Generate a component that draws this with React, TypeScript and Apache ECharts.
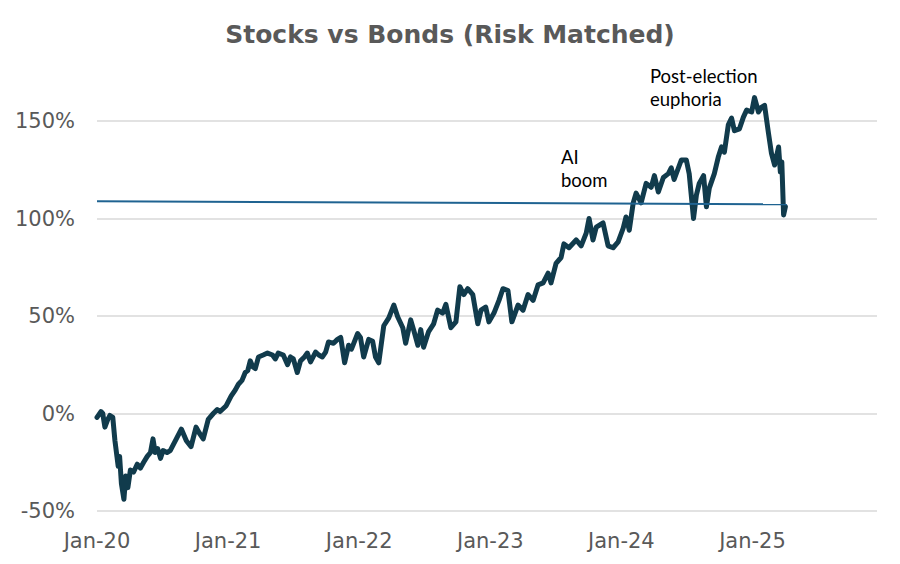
import React, { useEffect, useRef } from "react";
import * as echarts from "echarts";

const dates: string[] = [
  "2020-01-01","2020-01-12","2020-01-17","2020-01-23","2020-01-31","2020-02-06","2020-02-14","2020-02-20","2020-02-29","2020-03-04","2020-03-09","2020-03-16",
  "2020-03-21","2020-03-27","2020-04-03","2020-04-12","2020-04-22","2020-05-01","2020-05-10","2020-05-20","2020-05-29","2020-06-05","2020-06-11","2020-06-18",
  "2020-06-26","2020-07-03","2020-07-14","2020-07-23","2020-08-09","2020-08-23","2020-09-06","2020-09-19","2020-10-03","2020-10-12","2020-10-23","2020-11-06",
  "2020-11-20","2020-12-01","2020-12-09","2020-12-26","2021-01-09","2021-01-20","2021-01-29","2021-02-08","2021-02-17","2021-02-24","2021-03-03","2021-03-10",
  "2021-03-17","2021-03-26","2021-04-08","2021-04-20","2021-05-04","2021-05-12","2021-05-20","2021-06-03","2021-06-15","2021-06-23","2021-07-01","2021-07-12",
  "2021-07-21","2021-08-01","2021-08-09","2021-08-18","2021-09-01","2021-09-10","2021-09-20","2021-09-29","2021-10-07","2021-10-21","2021-11-01","2021-11-10",
  "2021-11-21","2021-12-02","2021-12-10","2021-12-27","2022-01-04","2022-01-13","2022-01-27","2022-02-07","2022-02-15","2022-02-24","2022-03-10","2022-03-24",
  "2022-04-07","2022-04-18","2022-05-02","2022-05-10","2022-05-24","2022-06-01","2022-06-13","2022-06-21","2022-06-29","2022-07-13","2022-07-27","2022-08-07",
  "2022-08-21","2022-08-30","2022-09-13","2022-09-27","2022-10-08","2022-10-19","2022-10-30","2022-11-13","2022-11-27","2022-12-06","2022-12-19","2022-12-28",
  "2023-01-11","2023-01-25","2023-02-05","2023-02-19","2023-03-02","2023-03-19","2023-04-02","2023-04-16","2023-04-30","2023-05-14","2023-05-28","2023-06-11",
  "2023-06-19","2023-07-03","2023-07-17","2023-07-25","2023-08-08","2023-08-28","2023-09-11","2023-09-25","2023-10-03","2023-10-14","2023-10-23","2023-11-11",
  "2023-11-25","2023-12-09","2023-12-23","2024-01-06","2024-01-14","2024-01-23","2024-02-03","2024-02-11","2024-02-25","2024-03-10","2024-03-24","2024-04-02",
  "2024-04-13","2024-04-27","2024-05-11","2024-05-19","2024-05-27","2024-06-16","2024-06-30","2024-07-08","2024-07-20","2024-07-28","2024-08-05","2024-08-17",
  "2024-08-25","2024-09-02","2024-09-16","2024-09-27","2024-10-06","2024-10-14","2024-10-25","2024-11-03","2024-11-11","2024-11-25","2024-12-06","2024-12-15",
  "2024-12-29","2025-01-06","2025-01-17","2025-01-25","2025-02-03","2025-02-14","2025-02-22","2025-03-03","2025-03-14","2025-03-19","2025-03-23","2025-03-28",
  "2025-04-02"
];

const stocksVsBonds: number[] = [
  -2, 1, 0, -7, -3, -1, -2, -14, -27, -22, -36, -44,
  -32, -38, -29, -30, -26, -28, -25, -22, -20, -13, -20, -18,
  -23, -19, -20, -19, -13, -8, -14, -17, -7, -10, -13, -3,
  0, 2, 1, 4, 9, 12, 15, 17, 21, 22, 27, 24,
  23, 29, 30, 31, 30, 28, 31, 30, 25, 29, 28, 21,
  27, 29, 31, 26.5, 31.5, 30, 29, 31.5, 36.7, 36, 38, 39,
  26, 35, 33, 41, 39, 29, 38, 37, 29, 26, 45, 49,
  55.6, 49.5, 44, 36, 48, 43, 35, 43, 34, 42, 46, 53,
  51.5, 56, 44, 47, 65, 61, 64, 61, 46, 53, 54.6, 47,
  51.5, 58, 64, 63, 47, 55.6, 53, 61, 58, 66, 67, 72,
  67, 77, 80, 87, 85, 89, 86, 92.5, 100, 89, 95.6, 97.7,
  86, 85, 88, 95, 100.8, 94, 108, 113, 108, 118, 116, 122,
  113.6, 121, 123, 126, 120, 130, 130, 123, 100, 112, 118, 122,
  106, 115.6, 123, 131.5, 136.7, 134, 148, 151.5, 145, 146, 152, 155.6,
  154.6, 162, 154.6, 157, 158, 143.6, 133.6, 127.4, 136.7, 123.8, 129, 101.8,
  106
];

const refDates: string[] = ["2020-01-01", "2025-04-06"];
const refValues: number[] = [108.8, 107.3];

const yTicks = { min: -50, max: 150, interval: 50 };
const xYears = { min: 2020, max: 2025.95, interval: 1 };

const T0 = Date.UTC(2020, 0, 1);
const YEAR_MS = 365.25 * 86400000;
function toYear(d: string): number {
  const [y, m, dd] = d.split("-").map(Number);
  return 2020 + (Date.UTC(y, m - 1, dd) - T0) / YEAR_MS;
}

export default function App() {
  const ref = useRef<HTMLDivElement>(null);
  useEffect(() => {
    if (!ref.current) return;
    const chart = echarts.init(ref.current, null, { renderer: "svg" });
    const labelFont = "'DejaVu Sans', sans-serif";
    chart.setOption({
      animation: false,
      backgroundColor: "#ffffff",
      title: {
        text: "Stocks vs Bonds (Risk Matched)",
        left: "center",
        top: 17,
        textStyle: {
          fontFamily: labelFont,
          fontWeight: "bold",
          fontSize: 25,
          color: "#595959",
        },
      },
      grid: { left: 97, right: 23, top: 121, bottom: 53, containLabel: false },
      xAxis: {
        type: "value",
        min: xYears.min,
        max: xYears.max,
        interval: xYears.interval,
        axisLine: { show: false },
        axisTick: { show: false },
        splitLine: { show: false },
        axisLabel: {
          showMaxLabel: false,
          margin: 19,
          fontFamily: labelFont,
          fontSize: 21,
          color: "#595959",
          formatter: (v: number) =>
            Math.abs(v - Math.round(v)) < 1e-6 ? "Jan-" + String(Math.round(v)).slice(2) : "",
        },
      },
      yAxis: {
        type: "value",
        min: yTicks.min,
        max: yTicks.max,
        interval: yTicks.interval,
        axisLine: { show: false },
        axisTick: { show: false },
        splitLine: { lineStyle: { color: "#d9d9d9", width: 1.5 } },
        axisLabel: {
          margin: 22,
          fontFamily: labelFont,
          fontSize: 21,
          color: "#595959",
          formatter: (v: number) => v + "%",
        },
      },
      graphic: [
        {
          type: "text",
          left: 561,
          top: 145,
          style: {
            text: "AI\nboom",
            font: "18.5px Lato, 'Open Sans', sans-serif",
            fill: "#000000",
            lineHeight: 23,
          },
        },
        {
          type: "text",
          left: 650,
          top: 64,
          style: {
            text: "Post-election\neuphoria",
            font: "18.5px Lato, 'Open Sans', sans-serif",
            fill: "#000000",
            lineHeight: 23,
          },
        },
      ],
      series: [
        {
          type: "line",
          data: dates.map((d, i) => [toYear(d), stocksVsBonds[i]]),
          showSymbol: false,
          clip: false,
          lineStyle: { color: "#113b4c", width: 5, join: "round", cap: "round" },
          z: 2,
        },
        {
          type: "line",
          data: refDates.map((d, i) => [toYear(d), refValues[i]]),
          showSymbol: false,
          clip: false,
          lineStyle: { color: "#1f6391", width: 2 },
          z: 3,
        },
      ],
    });
    return () => chart.dispose();
  }, []);
  return (
    <div
      ref={ref}
      style={{ position: "fixed", left: 0, top: 0, width: 900, height: 564 }}
    />
  );
}
